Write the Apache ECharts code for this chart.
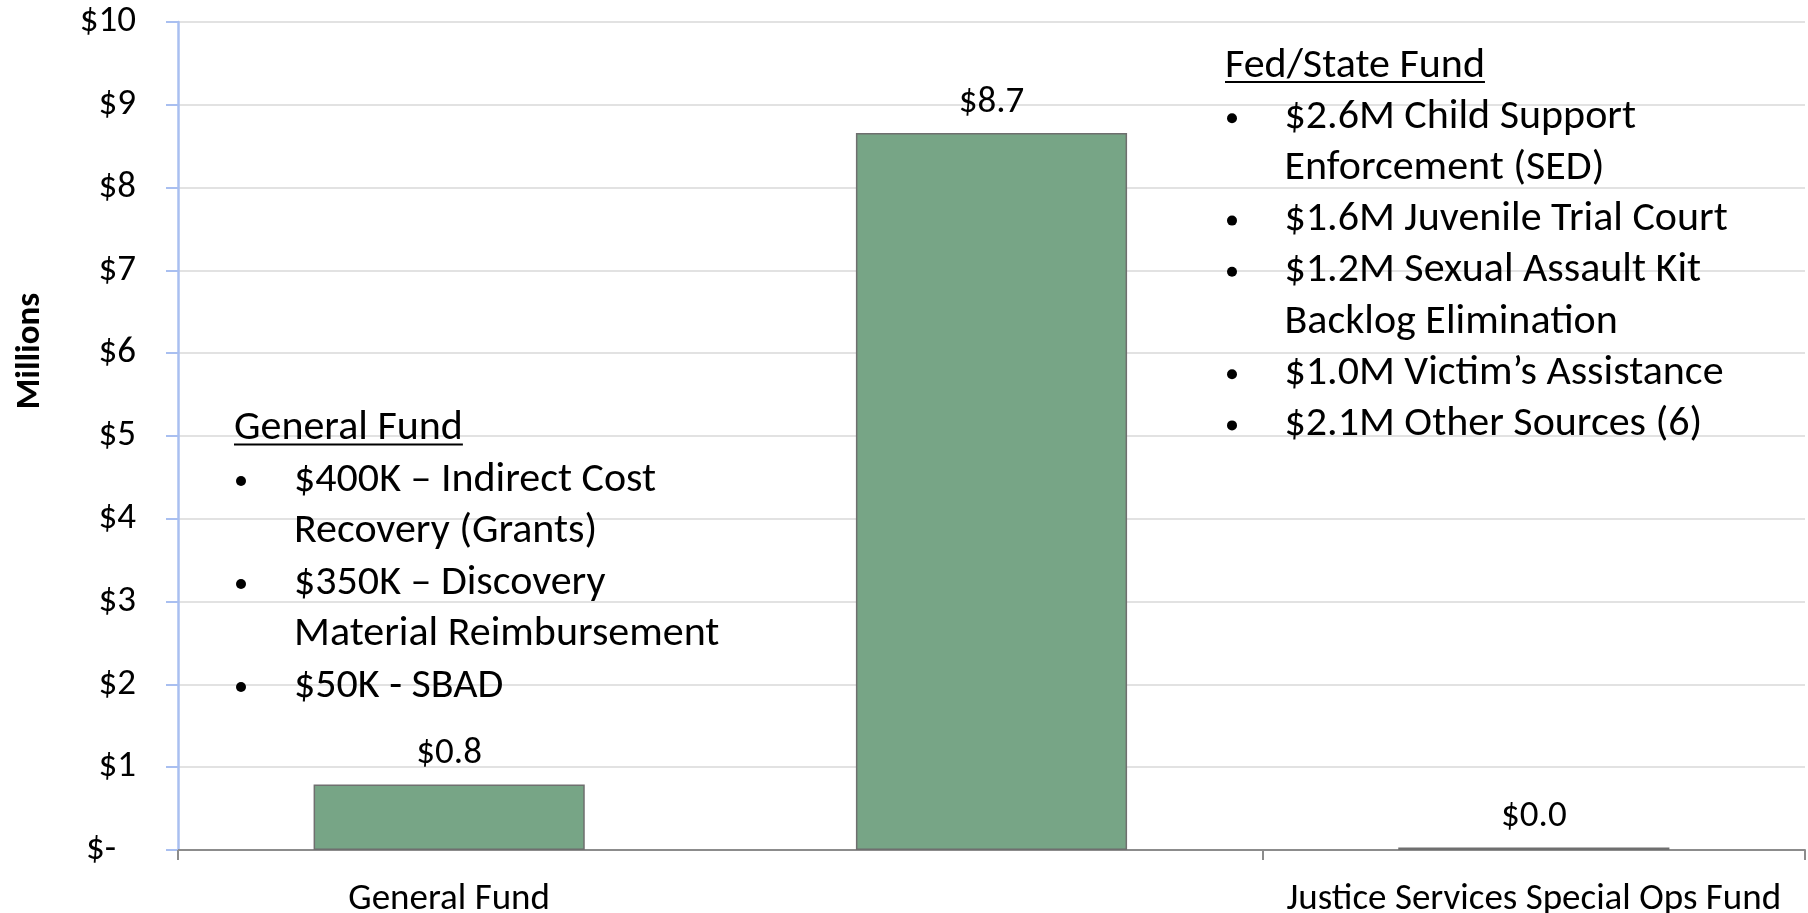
<!DOCTYPE html>
<html>
<head>
<meta charset="utf-8">
<script src="https://cdn.jsdelivr.net/npm/echarts@6/dist/echarts.min.js"></script>
<style>
  html, body { margin: 0; padding: 0; background: #fff; }
  #chart { width: 1808px; height: 913px; }
</style>
</head>
<body>
<div id="chart"></div>
<script>
// data (millions)
var categories = ['General Fund', 'Fed/State Fund', 'Justice Services Special Ops Fund'];
var values = [0.79, 8.66, 0.03];
var yTicks = [0, 1, 2, 3, 4, 5, 6, 7, 8, 9, 10];

// notes printed over the plot
var gfTitle = 'General Fund';
var gfItems = [
  ['$400K – Indirect Cost', 'Recovery (Grants)'],
  ['$350K – Discovery', 'Material Reimbursement'],
  ['$50K - SBAD']
];
var fsTitle = 'Fed/State Fund';
var fsItems = [
  ['$2.6M Child Support', 'Enforcement (SED)'],
  ['$1.6M Juvenile Trial Court'],
  ['$1.2M Sexual Assault Kit', 'Backlog Elimination'],
  ['$1.0M Victim’s Assistance'],
  ['$2.1M Other Sources (6)']
];

var FONT = 'Carlito, Calibri, Lato, sans-serif';
var noteSize = 42;

function textWidth(str, size) {
  var c = document.createElement('canvas').getContext('2d');
  c.font = size + 'px ' + FONT;
  return c.measureText(str).width;
}

// builds the graphic elements for one block of notes
function noteBlock(title, items, x, bulletX, textX, y, lh) {
  var els = [];
  els.push({
    type: 'text', x: x, y: y, z: 10,
    style: { text: title, font: noteSize + 'px ' + FONT, fill: '#000', verticalAlign: 'middle' }
  });
  els.push({
    type: 'line', z: 10,
    shape: { x1: x, y1: y + 16, x2: x + textWidth(title, noteSize), y2: y + 16 },
    style: { stroke: '#000', lineWidth: 2 }
  });
  var row = 1;
  items.forEach(function (item) {
    els.push({
      type: 'circle', z: 10,
      shape: { cx: bulletX + 5, cy: y + row * lh + 1, r: 5 },
      style: { fill: '#000' }
    });
    item.forEach(function (ln) {
      els.push({
        type: 'text', x: textX, y: y + row * lh, z: 10,
        style: { text: ln, font: noteSize + 'px ' + FONT, fill: '#000', verticalAlign: 'middle' }
      });
      row++;
    });
  });
  return els;
}

var myChart = echarts.init(document.getElementById('chart'));

var graphics = []
  .concat(noteBlock(gfTitle, gfItems, 234, 236, 294, 428.5, 51.5))
  .concat(noteBlock(fsTitle, fsItems, 1225, 1227, 1284.5, 66, 51.2));
graphics.push({
  type: 'text', x: 30, y: 351, rotation: Math.PI / 2, z: 10,
  style: { text: 'Millions', font: 'bold 35px ' + FONT, fill: '#000', align: 'center', verticalAlign: 'middle' }
});

var option = {
  animation: false,
  backgroundColor: '#fff',
  grid: { left: 178, right: 3, top: 22, bottom: 63, containLabel: false, outerBoundsMode: 'none' },
  xAxis: {
    type: 'category',
    data: categories,
    axisLine: { lineStyle: { color: '#8c8c8c', width: 2 } },
    axisTick: { show: true, length: 10, lineStyle: { color: '#8c8c8c', width: 2 } },
    axisLabel: { fontSize: 37, fontFamily: FONT, color: '#000', margin: 31 }
  },
  yAxis: {
    type: 'value',
    min: yTicks[0],
    max: yTicks[yTicks.length - 1],
    interval: 1,
    axisLine: { show: true, lineStyle: { color: '#a9bff0', width: 2.5 } },
    axisTick: { show: true, length: 12, lineStyle: { color: '#a9bff0', width: 2 } },
    splitLine: { lineStyle: { color: '#d9d9d9', width: 1.5 } },
    axisLabel: {
      fontSize: 37, fontFamily: FONT, color: '#000', margin: 42,
      formatter: function (v) { return v === 0 ? '{z|$-}' : '$' + v; },
      rich: { z: { fontSize: 37, fontFamily: FONT, color: '#000', padding: [0, 20, 0, 0] } }
    }
  },
  series: [{
    type: 'bar',
    data: values,
    barWidth: '50%',
    itemStyle: { color: '#77a586', borderColor: '#6f6f6f', borderWidth: 1.5 },
    label: {
      show: true, position: 'top', distance: 12,
      fontSize: 37, fontFamily: FONT, color: '#000',
      formatter: function (p) { return '$' + p.value.toFixed(1); }
    }
  }],
  graphic: graphics
};

myChart.setOption(option);
</script>
</body>
</html>
